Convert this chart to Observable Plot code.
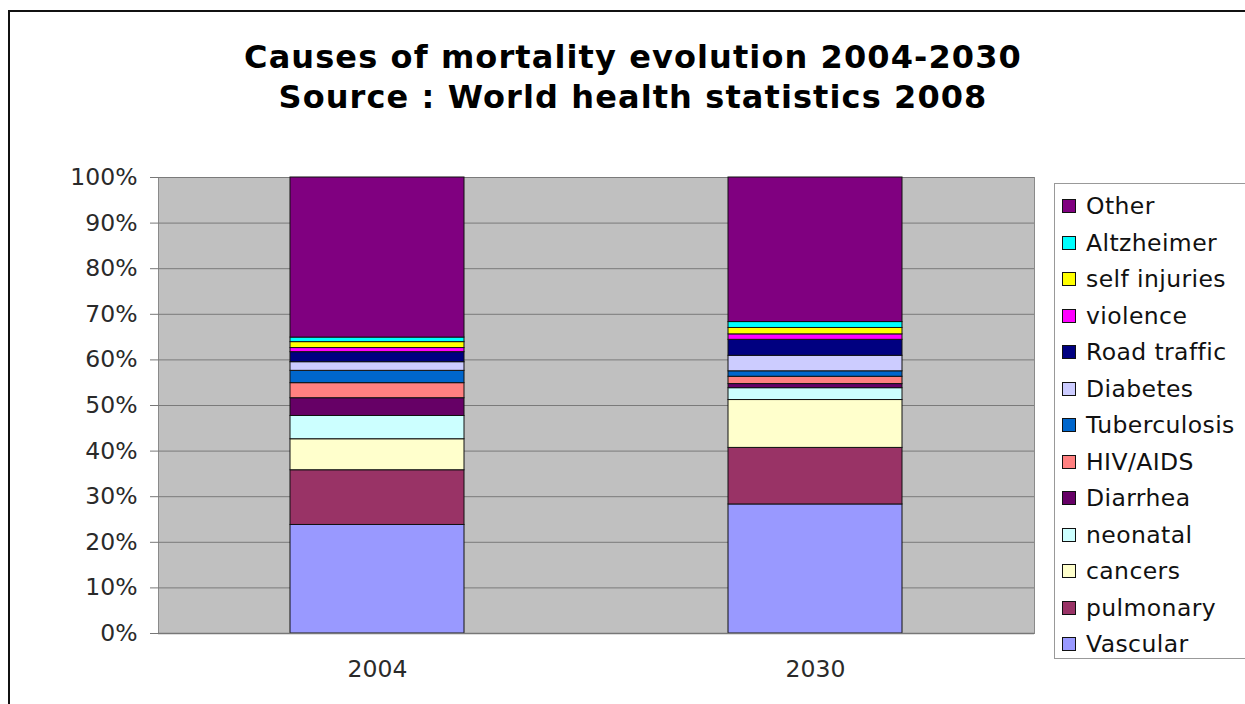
<!DOCTYPE html>
<html>
<head>
<meta charset="utf-8">
<script src="https://cdn.jsdelivr.net/npm/d3@7"></script>
<script src="https://cdn.jsdelivr.net/npm/@observablehq/plot@0.6"></script>
<style>
  html, body { margin: 0; padding: 0; background: #fff; overflow: hidden; }
  body { width: 1245px; height: 704px; position: relative; font-family: "DejaVu Sans", Verdana, sans-serif; }
  #frame { position: absolute; left: 8px; top: 10px; width: 1400px; height: 900px; border: 2px solid #111; box-sizing: border-box; }
  #title { position: absolute; left: 0; width: 1266px; top: 37px; text-align: center; font-weight: bold; font-size: 32px; letter-spacing: 1.1px; line-height: 40px; color: #000; }
  #chart { position: absolute; left: 0; top: 0; }
  #legend { position: absolute; left: 1054px; top: 183px; width: 300px; height: 476px; border: 1.5px solid #999; box-sizing: border-box; background: #fff; }
  .row { position: absolute; left: 7px; height: 28px; display: flex; align-items: center; font-size: 23.5px; letter-spacing: 0.4px; color: #111; white-space: nowrap; }
  .sw { width: 12px; height: 12px; border: 1.5px solid #111; margin-right: 10px; }
</style>
</head>
<body>
<div id="frame"></div>
<div id="chart"></div>
<div id="title">Causes of mortality evolution 2004-2030<br>Source : World health statistics 2008</div>
<div id="legend"></div>
<script>
const years = ["2004", "2030"];
const causes = ["Vascular", "pulmonary", "cancers", "neonatal", "Diarrhea", "HIV/AIDS", "Tuberculosis", "Diabetes", "Road traffic", "violence", "self injuries", "Altzheimer", "Other"];
const colors = ["#9999FF", "#993366", "#FFFFCC", "#CCFFFF", "#660066", "#FF8080", "#0066CC", "#CCCCFF", "#000080", "#FF00FF", "#FFFF00", "#00FFFF", "#800080"];
const values2004 = [23.8, 12.0, 6.8, 5.1, 3.9, 3.3, 2.7, 1.9, 2.2, 0.9, 1.3, 1.0, 35.1];
const values2030 = [28.3, 12.4, 10.5, 2.6, 0.9, 1.6, 1.2, 3.4, 3.5, 1.2, 1.4, 1.3, 31.7];
const yTicks = [0, 10, 20, 30, 40, 50, 60, 70, 80, 90, 100];

const rows = [];
causes.forEach((c, i) => rows.push({year: years[0], cause: c, value: values2004[i]}));
causes.forEach((c, i) => rows.push({year: years[1], cause: c, value: values2030[i]}));

const chart = Plot.plot({
  width: 1245,
  height: 704,
  marginLeft: 158,
  marginRight: 211,
  marginTop: 177,
  marginBottom: 71,
  style: {fontFamily: "'DejaVu Sans', Verdana, sans-serif", fontSize: "23.5px", color: "#2a2a2a", background: "transparent"},
  x: {domain: years, paddingInner: 0.603, paddingOuter: 0.3015, label: null},
  y: {domain: [0, 100], label: null},
  color: {domain: causes, range: colors},
  marks: [
    Plot.frame({fill: "#c0c0c0", stroke: "#8a8a8a"}),
    Plot.ruleY(yTicks, {stroke: "#7a7a7a", strokeWidth: 1}),
    Plot.barY(rows, {x: "year", y: "value", fill: "cause", stroke: "#111", strokeWidth: 1, order: null}),
    Plot.axisY(yTicks, {tickSize: 8, tickPadding: 13, stroke: "#777", tickFormat: d => d + "%", label: null}),
    Plot.axisX({tickSize: 0, tickPadding: 27, label: null}),
    Plot.ruleY([0], {stroke: "#777", strokeWidth: 1.5})
  ]
});
document.getElementById("chart").appendChild(chart);

const legend = document.getElementById("legend");
const order = causes.map((c, i) => i).reverse();
order.forEach((i, k) => {
  const row = document.createElement("div");
  row.className = "row";
  row.style.top = (8 + k * 36.5) + "px";
  const sw = document.createElement("div");
  sw.className = "sw";
  sw.style.background = colors[i];
  const t = document.createElement("span");
  t.textContent = causes[i];
  row.appendChild(sw);
  row.appendChild(t);
  legend.appendChild(row);
});
</script>
</body>
</html>
